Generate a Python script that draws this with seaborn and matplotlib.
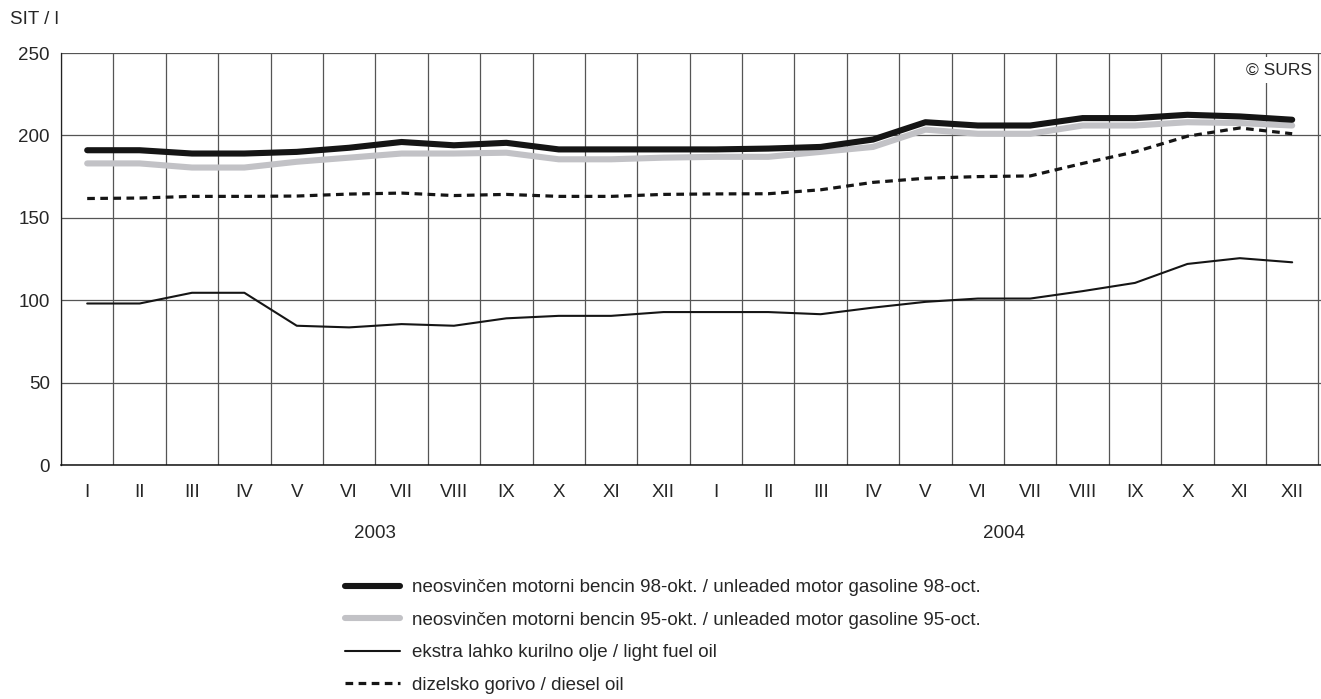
import numpy as np
import matplotlib
matplotlib.use("Agg")
import matplotlib.pyplot as plt
import matplotlib.transforms as mtransforms
import seaborn as sns

months = ["I", "II", "III", "IV", "V", "VI", "VII", "VIII", "IX", "X", "XI", "XII"] * 2
years = ["2003", "2004"]

# SIT / l, monthly 2003-2004
gas_98 = [191, 191, 189, 189, 190, 192.5, 196, 194, 195.5, 191.5, 191.5, 191.5,
          191.5, 192, 193, 197.5, 208, 206, 206, 210.5, 210.5, 212.5, 211.5, 209.5]
gas_95 = [183, 183, 180.5, 180.5, 184, 186.5, 189, 189, 189.5, 185.5, 185.5, 186.5,
          187, 187, 190, 193, 203.5, 201, 201, 206, 206, 208, 207.5, 206]
fuel_oil = [98, 98, 104.5, 104.5, 84.5, 83.5, 85.5, 84.5, 89, 90.5, 90.5, 92.8,
            92.8, 92.8, 91.5, 95.5, 99, 101, 101, 105.5, 110.5, 122, 125.5, 123]
diesel = [161.7, 162, 163, 163, 163.2, 164.4, 165, 163.5, 164.2, 163, 163, 164.2,
          164.5, 164.6, 167, 171.5, 174, 175, 175.4, 183, 190, 199.5, 204.5, 201]

labels = [
    "neosvinčen motorni bencin 98-okt. / unleaded motor gasoline 98-oct.",
    "neosvinčen motorni bencin 95-okt. / unleaded motor gasoline 95-oct.",
    "ekstra lahko kurilno olje / light fuel oil",
    "dizelsko gorivo / diesel oil",
]

FS = 13.5
sns.set_style("white")
plt.rcParams["font.family"] = ["Liberation Sans", "DejaVu Sans"]
plt.rcParams["font.size"] = FS

W, H = 1321, 699
fig = plt.figure(figsize=(W / 100, H / 100), dpi=100)
ax = fig.add_axes([61 / W, 1 - 465 / H, (1321 - 61) / W, (465 - 53) / H])

x = np.arange(len(months))

sns.lineplot(x=x, y=gas_95, ax=ax, color="#c2c2c6", lw=4.4, label=labels[1])
sns.lineplot(x=x, y=gas_98, ax=ax, color="#151515", lw=4.4, label=labels[0])
sns.lineplot(x=x, y=fuel_oil, ax=ax, color="#151515", lw=1.5, label=labels[2])
sns.lineplot(x=x, y=diesel, ax=ax, color="#151515", lw=2.3, label=labels[3],
             linestyle=(0, (2.4, 1.7)))
ax.get_legend().remove()

ax.set_xlim(-0.5, 23.55)
ax.set_ylim(0, 250)
ax.set_yticks(np.arange(0, 251, 50))

# month boundaries carry grid + ticks, month centres carry labels
ax.set_xticks(np.arange(-0.5, 23.6, 1))
ax.set_xticklabels([])
ax.set_xticks(x, minor=True)
ax.set_xticklabels(months, minor=True)
ax.tick_params(axis="x", which="major", length=5, width=0.8, color="#333333", direction="out")
ax.tick_params(axis="x", which="minor", length=0, pad=14, labelsize=FS)
ax.tick_params(axis="y", length=0, pad=8, labelsize=FS)

ax.grid(True, which="major", color="#555555", lw=0.9)
for s in ["top", "right"]:
    ax.spines[s].set_visible(False)
ax.spines["left"].set_color("#222222")
ax.spines["bottom"].set_color("#111111")
ax.spines["left"].set_linewidth(0.9)
ax.spines["bottom"].set_linewidth(1.1)
ax.set_axisbelow(True)

trans = mtransforms.blended_transform_factory(ax.transData, fig.transFigure)
ax.text(5.5, 1 - 534 / H, years[0], transform=trans, ha="center", va="center", fontsize=FS)
ax.text(17.5, 1 - 534 / H, years[1], transform=trans, ha="center", va="center", fontsize=FS)

fig.text(10 / W, 1 - 19 / H, "SIT / l", ha="left", va="center", fontsize=FS)
ax.text(23.37, 1 - 70 / H, "© SURS", transform=trans, ha="right", va="center", fontsize=12.5,
        bbox=dict(facecolor="white", edgecolor="none", pad=4))

handles, labs = ax.get_legend_handles_labels()
order = [1, 0, 2, 3]
fig.legend([handles[i] for i in order], [labs[i] for i in order],
           loc="upper left", bbox_to_anchor=(345 / W, 1 - 579 / H),
           frameon=False, borderpad=0, borderaxespad=0, handlelength=2.95,
           handletextpad=0.65, labelspacing=0.82, fontsize=FS)

fig.savefig("out.png", dpi=100)
